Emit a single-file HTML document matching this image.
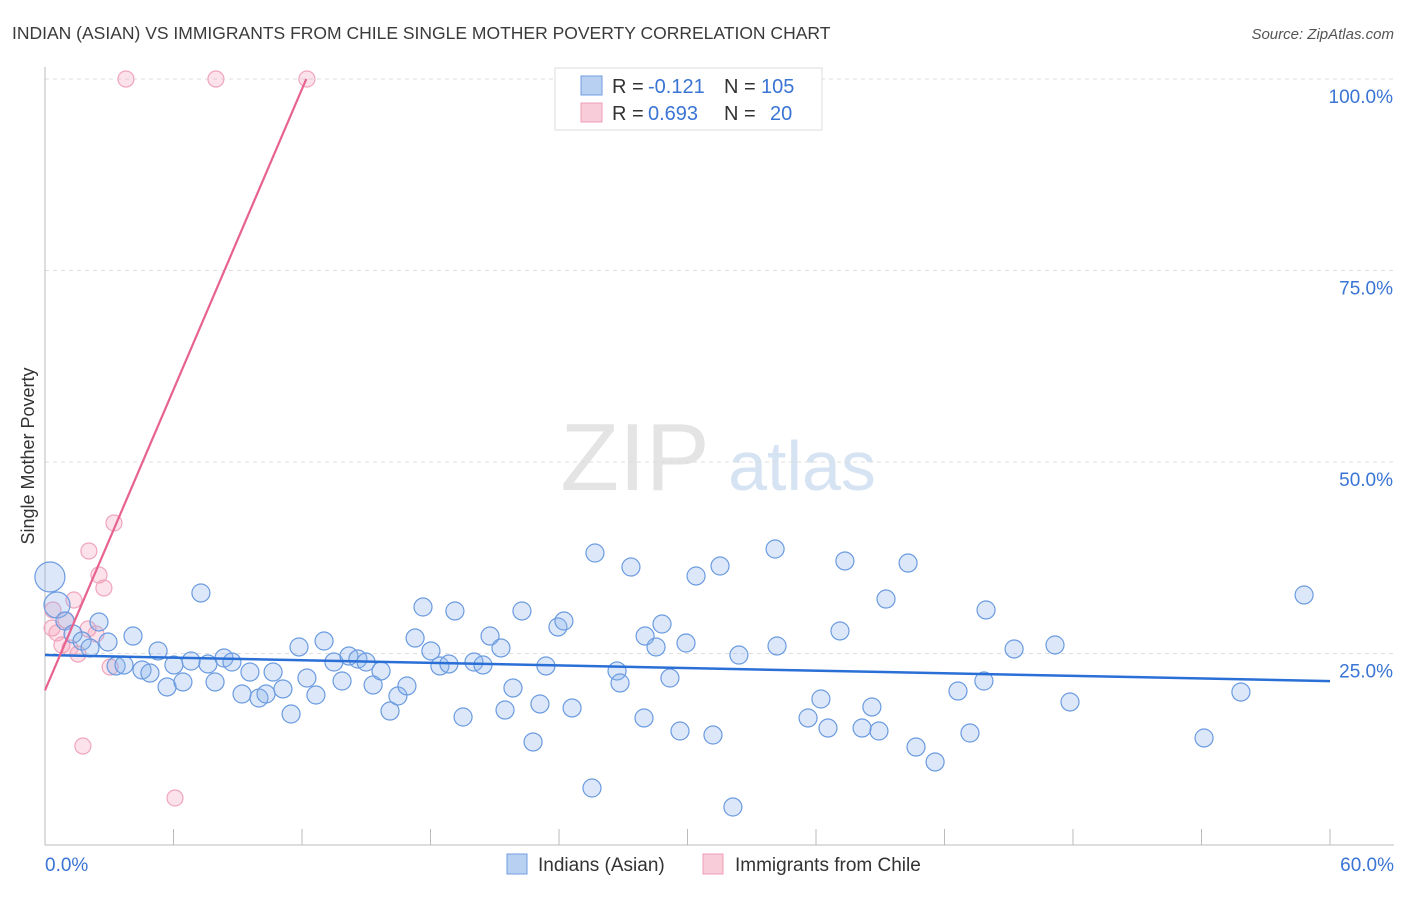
<!DOCTYPE html>
<html><head><meta charset="utf-8">
<style>
body{margin:0;background:#fff;font-family:"Liberation Sans",sans-serif;}
svg text{font-family:"Liberation Sans",sans-serif;}
</style></head>
<body>
<svg id="chart" width="1406" height="892" viewBox="0 0 1406 892" xmlns="http://www.w3.org/2000/svg">
<text x="12" y="39" font-size="17.5" fill="#3a3a3a">INDIAN (ASIAN) VS IMMIGRANTS FROM CHILE SINGLE MOTHER POVERTY CORRELATION CHART</text>
<text x="1394" y="39" font-size="15" fill="#555" text-anchor="end" font-style="italic">Source: ZipAtlas.com</text>
<text transform="translate(34,456) rotate(-90)" font-size="18" fill="#333" text-anchor="middle">Single Mother Poverty</text>
<g>
<text x="635" y="490" font-size="96" fill="#e4e4e4" text-anchor="middle" font-family="Liberation Serif">ZIP</text>
<text x="802" y="490" font-size="70" fill="#d6e3f3" text-anchor="middle">atlas</text>
</g>
<g id="grid"></g>
<g id="axes"></g>
<g id="pinkpts"></g>
<g id="bluepts"></g>
<g id="lines"></g>
<g>
<rect x="555" y="68" width="267" height="62" fill="#fff" stroke="#ddd"/>
<rect x="581" y="76" width="21" height="19" fill="#b8d0f2" stroke="#6f9de0"/>
<text x="612" y="93" font-size="20" fill="#333">R =</text>
<text x="648" y="93" font-size="20" fill="#3a74d4">-0.121</text>
<text x="724" y="93" font-size="20" fill="#333">N =</text>
<text x="761" y="93" font-size="20" fill="#3a74d4">105</text>
<rect x="581" y="103" width="21" height="19" fill="#f9ccd9" stroke="#ef9db5"/>
<text x="612" y="120" font-size="20" fill="#333">R =</text>
<text x="648" y="120" font-size="20" fill="#3a74d4">0.693</text>
<text x="724" y="120" font-size="20" fill="#333">N =</text>
<text x="770" y="120" font-size="20" fill="#3a74d4">20</text>
</g>
<g>
<rect x="507" y="854" width="20" height="20" fill="#b8d0f2" stroke="#6f9de0"/>
<text x="538" y="871" font-size="19" fill="#333">Indians (Asian)</text>
<rect x="703" y="854" width="20" height="20" fill="#f9ccd9" stroke="#ef9db5"/>
<text x="735" y="871" font-size="19" fill="#333">Immigrants from Chile</text>
</g>
</svg>
<script>
const yTicks=[25,50,75,100];
const yTickLabels=["25.0%","50.0%","75.0%","100.0%"];
const xTickVals=[0,6,12,18,24,30,36,42,48,54,60];
const xEndLabels=["0.0%","60.0%"];
const bluePx=[[50,577],[57,605],[65,621],[73,634],[82,641],[90,648],[99,622],[108,642],[116,666],[124,665],[133,636],[142,670],[150,673],[158,651],[167,687],[174,665],[183,682],[191,661],[201,593],[208,664],[215,682],[224,658],[232,662],[242,694],[250,672],[259,698],[266,694],[273,672],[283,689],[291,714],[299,647],[307,678],[316,695],[324,641],[334,662],[342,681],[349,656],[358,659],[366,662],[373,685],[381,671],[390,711],[398,696],[407,686],[415,638],[423,607],[431,651],[440,666],[449,664],[455,611],[463,717],[474,662],[483,665],[490,636],[501,648],[505,710],[513,688],[522,611],[533,742],[540,704],[546,666],[558,627],[564,621],[572,708],[592,788],[595,553],[617,671],[620,683],[631,567],[644,718],[645,636],[656,647],[662,624],[670,678],[680,731],[686,643],[696,576],[713,735],[720,566],[733,807],[739,655],[775,549],[777,646],[808,718],[821,699],[828,728],[840,631],[845,561],[862,728],[872,707],[879,731],[886,599],[908,563],[916,747],[935,762],[958,691],[970,733],[984,681],[986,610],[1014,649],[1055,645],[1070,702],[1204,738],[1241,692],[1304,595]];
const pinkPx=[[126,79],[216,79],[307,79],[114,523],[89,551],[99,575],[104,588],[74,600],[53,610],[52,628],[57,633],[88,629],[96,634],[62,645],[70,648],[78,654],[110,667],[83,746],[175,798],[66,620]];
const blueX=bluePx.map(p=>+((p[0]-45)/1285*60).toFixed(2));
const blueY=bluePx.map(p=>+((845-p[1])/766*100).toFixed(2));
const pinkX=pinkPx.map(p=>+((p[0]-45)/1285*60).toFixed(2));
const pinkY=pinkPx.map(p=>+((845-p[1])/766*100).toFixed(2));
const blueTrend=[[0,24.8],[60,21.4]];
const pinkTrend=[[0,20.2],[12.2,100]];
const NS="http://www.w3.org/2000/svg";
const X=v=>45+v/60*1285, Y=v=>845-v/100*766;
function mk(t,a,parent){const e=document.createElementNS(NS,t);for(const k in a)e.setAttribute(k,a[k]);document.getElementById(parent).appendChild(e);return e;}
yTicks.forEach((t,i)=>{
 const l=mk('line',{x1:45,x2:1394,y1:Y(t),y2:Y(t),stroke:'#ddd','stroke-dasharray':'4,4'},'grid');
 
 
 const tx=mk('text',{x:1393,y:Y(t)+24,'font-size':19,fill:'#3a74d4','text-anchor':'end'},'axes');
 tx.textContent=yTickLabels[i];
 
 
});
const ya=mk('line',{x1:45,x2:45,y1:67,y2:845,stroke:'#bbb'},'axes');


const xa=mk('line',{x1:45,x2:1394,y1:845,y2:845,stroke:'#bbb'},'axes');


xTickVals.forEach(v=>{const t=mk('line',{x1:X(v),x2:X(v),y1:829,y2:845,stroke:'#bbb'},'axes');
 
 });
[[0,'start',45],[60,'end',1394]].forEach((d,i)=>{const t=mk('text',{x:d[2],y:871,'font-size':19,fill:'#3a74d4','text-anchor':d[1]},'axes');t.textContent=xEndLabels[i];
 
 });
pinkX.forEach((x,i)=>{const c=mk('circle',{cx:X(x),cy:Y(pinkY[i]),r:8,fill:'rgba(245,160,185,0.3)',stroke:'#f0a5bc','stroke-width':1.2},'pinkpts');
 
 });
blueX.forEach((x,i)=>{const r=i===0?15:(i===1?13:9);const c=mk('circle',{cx:X(x),cy:Y(blueY[i]),r:r,fill:'rgba(140,180,235,0.3)',stroke:'#6b9be0','stroke-width':1.2},'bluepts');
 
 });
const bl=mk('line',{x1:X(blueTrend[0][0]),y1:Y(blueTrend[0][1]),x2:X(blueTrend[1][0]),y2:Y(blueTrend[1][1]),stroke:'#2a6fd6','stroke-width':2.5},'lines');


const pl=mk('line',{x1:X(pinkTrend[0][0]),y1:Y(pinkTrend[0][1]),x2:X(pinkTrend[1][0]),y2:Y(pinkTrend[1][1]),stroke:'#e8628f','stroke-width':2.2},'lines');


</script>
</body></html>
